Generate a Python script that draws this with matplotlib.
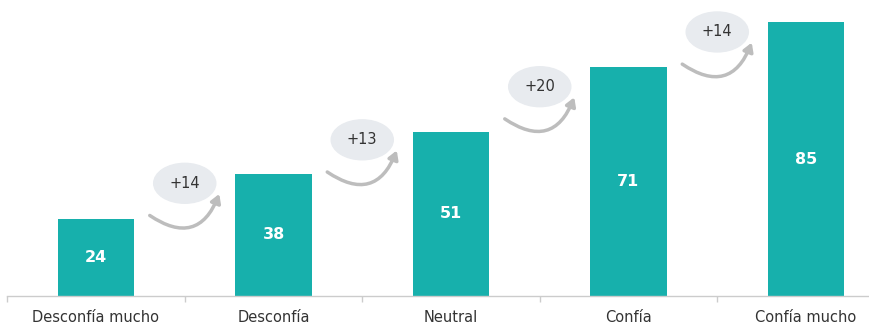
import numpy as np
import matplotlib.pyplot as plt
from matplotlib.patches import Ellipse, FancyArrowPatch

categories = ["Desconfía mucho", "Desconfía", "Neutral", "Confía", "Confía mucho"]
values = [24, 38, 51, 71, 85]

bar_color = "#17b0ac"
bubble_color = "#e8ebef"
arrow_color = "#bdbdbd"
text_color = "#333333"

step = 177.5  # pixels per category
fig = plt.figure(figsize=(8.69, 3.26), dpi=100)
left_px = 96 - step / 2
ax = fig.add_axes([left_px / 869, 30 / 326, 1 - left_px / 869, 296 / 326])

x = np.arange(len(categories))
bars = ax.bar(x, values, width=0.43, color=bar_color, zorder=2)

for xi, v in zip(x, values):
    ax.text(xi, v / 2, str(v), ha="center", va="center", color="white",
            fontsize=11.5, fontweight="bold", zorder=3)

# step bubbles with curved arrows between consecutive bars
for i in range(len(values) - 1):
    diff = values[i + 1] - values[i]
    mx = i + 0.5
    my = (values[i] + values[i + 1]) / 2 + 4.0
    ax.add_patch(Ellipse((mx, my), 0.35, 12.4, color=bubble_color, zorder=1))
    ax.text(mx, my, f"+{diff}", ha="center", va="center", color=text_color,
            fontsize=10.5, zorder=3)
    arr = FancyArrowPatch((mx - 0.21, my - 9.5), (mx + 0.2, my - 2.5),
                          connectionstyle="arc3,rad=0.65",
                          arrowstyle="-|>,head_length=5,head_width=3",
                          color=arrow_color, lw=2.5, zorder=1)
    ax.add_patch(arr)

for s in ["top", "right", "left"]:
    ax.spines[s].set_visible(False)
ax.spines["bottom"].set_color("#cccccc")
ax.spines["bottom"].set_linewidth(1.0)
ax.set_yticks([])

ax.set_xticks(x)
ax.set_xticklabels(categories, fontsize=10.5, color=text_color)
ax.tick_params(axis="x", which="major", length=0, pad=10)
ax.set_xticks(np.arange(-0.5, len(categories), 1.0), minor=True)
ax.tick_params(axis="x", which="minor", length=4, color="#cccccc", width=1)

ax.set_xlim(-0.5, (869 - 96) / step)
ax.set_ylim(0, 296 / 3.22)

fig.savefig("out.png", dpi=100)
